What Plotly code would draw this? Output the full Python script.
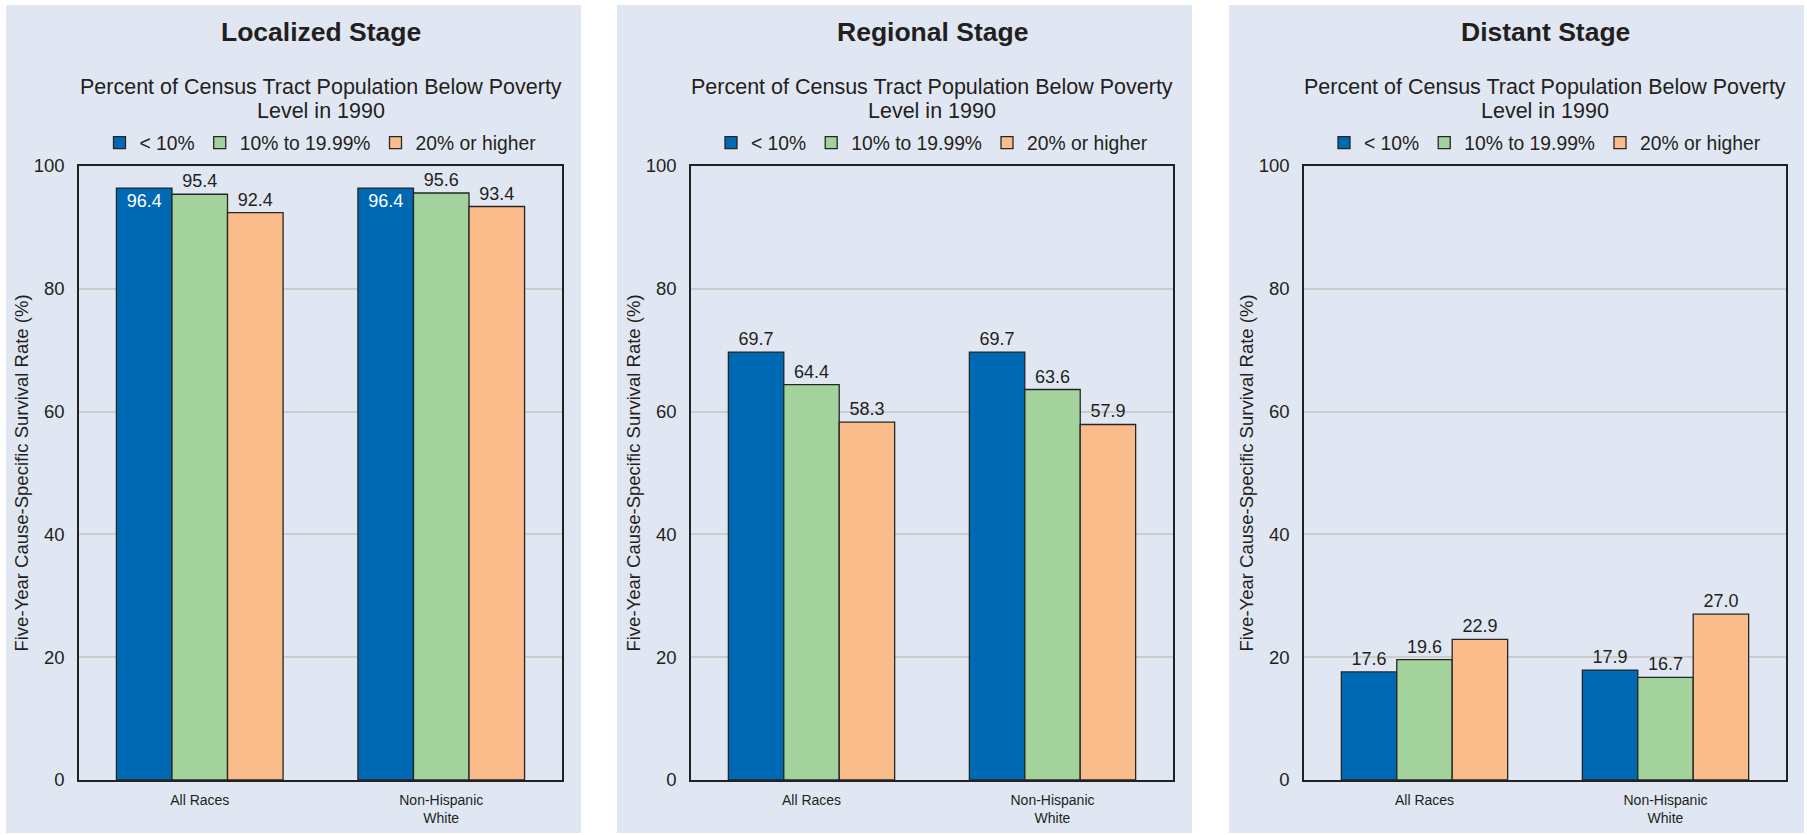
import plotly.graph_objects as go

W, H = 1807, 835

categories = ["All Races", "Non-Hispanic<br>White"]
series_names = ["< 10%", "10% to 19.99%", "20% or higher"]
stage_titles = ["Localized Stage", "Regional Stage", "Distant Stage"]

localized_lt10 = [96.4, 96.4]
localized_10_20 = [95.4, 95.6]
localized_20plus = [92.4, 93.4]

regional_lt10 = [69.7, 69.7]
regional_10_20 = [64.4, 63.6]
regional_20plus = [58.3, 57.9]

distant_lt10 = [17.6, 17.9]
distant_10_20 = [19.6, 16.7]
distant_20plus = [22.9, 27.0]

y_ticks = [0, 20, 40, 60, 80, 100]

stages = [
    [localized_lt10, localized_10_20, localized_20plus],
    [regional_lt10, regional_10_20, regional_20plus],
    [distant_lt10, distant_10_20, distant_20plus],
]

colors = ["#0069B4", "#A3D29C", "#F9BC8A"]
panel_bg = "#E1E7F2"
text_col = "#231F20"
FONT = "Liberation Sans, Arial, sans-serif"

# layout geometry (pixels)
plot_x = [(79, 562), (691, 1173), (1304, 1786)]
panel_x = [(6, 581), (617, 1192), (1229, 1804)]
plot_top, plot_bot = 166, 780
panel_top, panel_bot = 5, 833

def px(x):
    return x / W

def py(y):
    return 1 - y / H

fig = go.Figure()

for i, vals in enumerate(stages):
    ax = "" if i == 0 else str(i + 1)
    leg = "legend" if i == 0 else f"legend{i + 1}"
    for j, (name, v) in enumerate(zip(series_names, vals)):
        inside = (i == 0 and j == 0)
        fig.add_trace(go.Bar(
            x=categories, y=v, name=name,
            marker=dict(color=colors[j], line=dict(color="#262626", width=1.3)),
            texttemplate="%{y:.1f}",
            textposition="inside" if inside else "outside",
            insidetextanchor="end",
            insidetextfont=dict(color="white", size=18, family=FONT),
            outsidetextfont=dict(color=text_col, size=18, family=FONT),
            textangle=0,
            cliponaxis=False,
            xaxis="x" + ax, yaxis="y" + ax,
            legend=leg,
            hoverinfo="skip",
        ))

annotations = []
shapes = []
for i in range(3):
    ax = "" if i == 0 else str(i + 1)
    x0, x1 = plot_x[i]
    cx = (x0 + x1) / 2
    fig.update_layout(**{
        "xaxis" + ax: dict(
            domain=[px(x0), px(x1)], anchor="y" + ax,
            range=[-0.5, 1.5],
            showline=True, linecolor="#222222", linewidth=1.6, mirror=True,
            showgrid=False, ticks="", ticklabelstandoff=6,
            tickfont=dict(size=14, color=text_col, family=FONT),
            automargin=False, fixedrange=True,
        ),
        "yaxis" + ax: dict(
            domain=[py(plot_bot), py(plot_top)], anchor="x" + ax,
            range=[0, 100], tickvals=y_ticks,
            showline=True, linecolor="#222222", linewidth=1.6, mirror=True,
            showgrid=True, gridcolor="#CCCCCC", gridwidth=1.5,
            zeroline=False, ticks="", ticklabelstandoff=9,
            tickfont=dict(size=18.5, color=text_col, family=FONT),
            title=dict(text="Five-Year Cause-Specific Survival Rate (%)",
                       font=dict(size=18.5, color=text_col, family=FONT),
                       standoff=0),
            automargin=False,
            fixedrange=True,
        ),
    })
    leg = "legend" if i == 0 else f"legend{i + 1}"
    fig.update_layout(**{leg: dict(
        orientation="h", x=px(cx), xanchor="center", y=py(143), yanchor="middle",
        font=dict(size=19.3, color=text_col, family=FONT),
        bgcolor="rgba(0,0,0,0)", itemwidth=30, itemclick=False, itemdoubleclick=False,
        traceorder="normal",
    )})
    shapes.append(dict(type="rect", xref="paper", yref="paper", layer="below",
                       x0=px(panel_x[i][0]), x1=px(panel_x[i][1]),
                       y0=py(panel_bot), y1=py(panel_top),
                       fillcolor=panel_bg, line=dict(width=0)))
    annotations.append(dict(text=f"<b>{stage_titles[i]}</b>", xref="paper", yref="paper",
                            x=px(cx), y=py(32), xanchor="center", yanchor="middle",
                            showarrow=False,
                            font=dict(size=26.5, color=text_col, family=FONT)))
    annotations.append(dict(text="Percent of Census Tract Population Below Poverty",
                            xref="paper", yref="paper",
                            x=px(cx), y=py(87), xanchor="center", yanchor="middle",
                            showarrow=False,
                            font=dict(size=21.5, color=text_col, family=FONT)))
    annotations.append(dict(text="Level in 1990",
                            xref="paper", yref="paper",
                            x=px(cx), y=py(111), xanchor="center", yanchor="middle",
                            showarrow=False,
                            font=dict(size=21.5, color=text_col, family=FONT)))

fig.update_layout(
    width=W, height=H, autosize=False,
    margin=dict(l=0, r=0, t=0, b=0, pad=0),
    paper_bgcolor="white", plot_bgcolor="white",
    barmode="group", bargap=0.31, bargroupgap=0,
    shapes=shapes, annotations=annotations,
    font=dict(family=FONT, color=text_col),
)

fig.write_html(
    "out.html",
    config={"displayModeBar": False},
    post_script="document.body.style.margin='0px';document.body.style.overflow='hidden';",
)
